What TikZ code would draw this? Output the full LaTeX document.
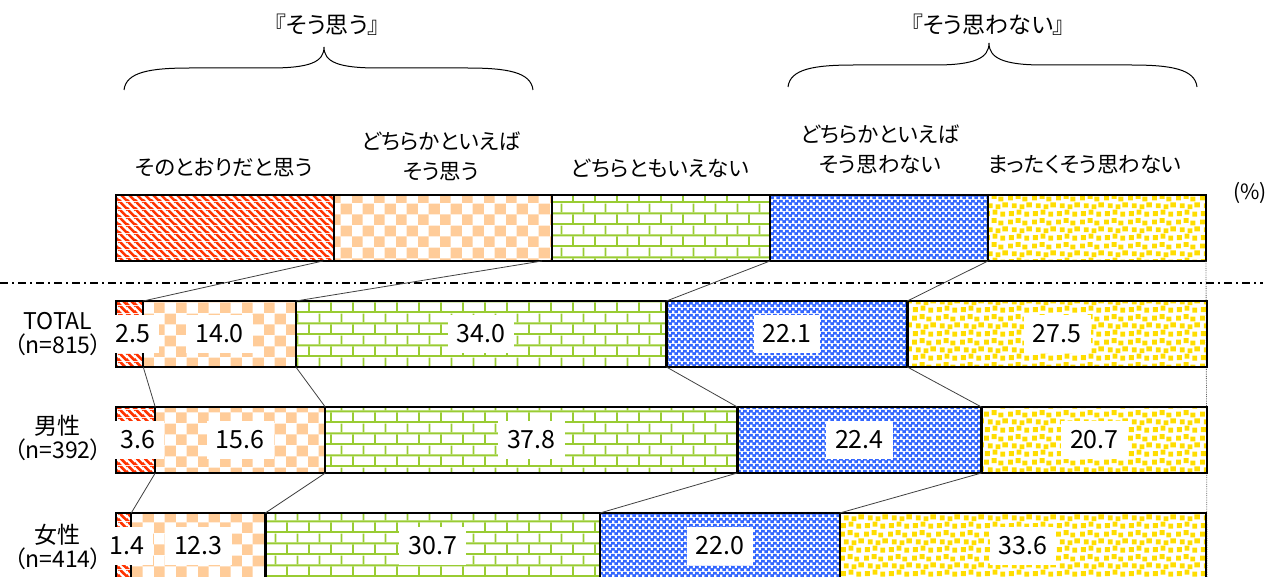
\documentclass[tikz,border=0pt]{standalone}
\usepackage{fontspec}
\setmainfont{Noto Sans CJK JP}[RawFeature=+palt]
\usetikzlibrary{positioning,patterns.meta}

\definecolor{stripered}{RGB}{255,51,0}
\definecolor{checkpeach}{RGB}{255,204,153}
\definecolor{brickgreen}{RGB}{153,204,51}
\definecolor{dotblue}{RGB}{51,102,255}
\definecolor{spotyellow}{RGB}{255,221,0}

\newcommand{\pcw}{10.9pt}

\tikzdeclarepattern{
  name=redstripes, type=colored,
  bounding box={(0pt,0pt) and (8pt,8pt)},
  tile size={(8pt,8pt)},
  code={
    \fill[stripered] (0pt,6pt) -- (0pt,8pt) -- (2pt,8pt) -- (8pt,2pt) -- (8pt,0pt) -- (6pt,0pt) -- cycle;
    \fill[stripered] (0pt,0pt) -- (2pt,0pt) -- (0pt,2pt) -- cycle;
    \fill[stripered] (8pt,6pt) -- (8pt,8pt) -- (6pt,8pt) -- cycle;
  }
}
\tikzdeclarepattern{
  name=checks, type=colored,
  bounding box={(0pt,0pt) and (22pt,22pt)},
  tile size={(22pt,22pt)},
  code={
    \fill[checkpeach] (0pt,0pt) rectangle (11pt,11pt);
    \fill[checkpeach] (11pt,11pt) rectangle (22pt,22pt);
  }
}
\tikzdeclarepattern{
  name=greenbricks, type=colored,
  bounding box={(0pt,0pt) and (22pt,22pt)},
  tile size={(22pt,22pt)},
  code={
    \fill[brickgreen] (0pt,0pt) rectangle (22pt,2pt);
    \fill[brickgreen] (0pt,11pt) rectangle (22pt,13pt);
    \fill[brickgreen] (0pt,2pt) rectangle (2pt,11pt);
    \fill[brickgreen] (11pt,13pt) rectangle (13pt,22pt);
  }
}
\tikzdeclarepattern{
  name=bluechecks, type=colored,
  bounding box={(0pt,0pt) and (6pt,6pt)},
  tile size={(6pt,6pt)},
  code={
    \fill[dotblue] (0pt,0pt) rectangle (6pt,6pt);
    \fill[white] (0.2pt,0.2pt) rectangle (2.8pt,2.8pt);
    \fill[white] (3.2pt,3.2pt) rectangle (5.8pt,5.8pt);
  }
}
\tikzdeclarepattern{
  name=yellowspots, type=colored,
  bounding box={(0pt,0pt) and (24pt,24pt)},
  tile size={(24pt,24pt)},
  code={
    \fill[spotyellow] (1pt,1pt) rectangle +(5pt,5pt);
    \fill[spotyellow] (9pt,2.5pt) rectangle +(5pt,5pt);
    \fill[spotyellow] (17pt,0.5pt) rectangle +(5pt,5pt);
    \fill[spotyellow] (4pt,9pt) rectangle +(5pt,5pt);
    \fill[spotyellow] (12pt,8pt) rectangle +(5pt,5pt);
    \fill[spotyellow] (19pt,10pt) rectangle +(5pt,5pt);
    \fill[spotyellow] (0pt,17pt) rectangle +(5pt,5pt);
    \fill[spotyellow] (8pt,18.5pt) rectangle +(5pt,5pt);
    \fill[spotyellow] (15pt,16pt) rectangle +(5pt,5pt);
  }
}

\tikzset{
  seg/.style={draw, line width=2.4pt, inner sep=0pt, outer sep=0pt, minimum height=66pt},
  numbox/.style={fill=white, inner xsep=9pt, inner ysep=0pt, minimum height=38pt, font=\fontsize{25}{25}\selectfont},
  serline/.style={black!75, line width=0.8pt},
  lab/.style={font=\fontsize{21.5}{30}\selectfont, align=center, inner sep=0pt},
  rowlab/.style={font=\fontsize{23}{24}\selectfont, align=center, inner sep=0pt},
}

\begin{document}
\begin{tikzpicture}[x=1pt, y=-1pt]
		\useasboundingbox (0,0) rectangle (1281,577);
		% titles and braces
		\node (gy) [lab, font=\fontsize{23}{23}\selectfont] at (327,25) {『そう思う』};
		\node (gn) [lab, font=\fontsize{23}{23}\selectfont] at (988,25) {『そう思わない』};
		\draw[line width=1pt] (124,90) .. controls (126,72) and (150,68) .. (190,68) -- (270,68) .. controls (310,68) and (324,62) .. (324,47) .. controls (324,62) and (338,68) .. (378,68) -- (467,68) .. controls (507,68) and (531,72) .. (533,90);
		\draw[line width=1pt] (788,87) .. controls (790,69) and (814,65) .. (854,65) -- (935,65) .. controls (975,65) and (989,58) .. (989,43) .. controls (989,58) and (1003,65) .. (1043,65) -- (1131,65) .. controls (1171,65) and (1195,69) .. (1197,87);
		% legend bar
		\node (h1) [lab] at (224,168) {そのとおりだと思う};
		\node (h2) [lab] at (441,156) {どちらかといえば\\そう思う};
		\node (h3) [lab] at (660,168) {どちらともいえない};
		\node (h4) [lab] at (880,149) {どちらかといえば\\そう思わない};
		\node (h5) [lab] at (1085,165) {まったくそう思わない};
		\node (pc) [rowlab, font=\fontsize{21}{21}\selectfont] at (1250,193) {(\%)};
		\coordinate (vb) at (1207,577);
		\coordinate (dl) at (0,283);
		\coordinate (dr) at (1263,283);
		\node (l1) [seg, pattern=redstripes, minimum width=218pt, anchor=north west] at (116,195) {};
		\node (l2) [seg, pattern=checks, minimum width=218pt, right=0pt of l1] {};
		\node (l3) [seg, pattern=greenbricks, minimum width=218pt, right=0pt of l2] {};
		\node (l4) [seg, pattern=bluechecks, minimum width=218pt, right=0pt of l3] {};
		\node (l5) [seg, pattern=yellowspots, minimum width=218pt, right=0pt of l4] {};
		\draw[black!60, line width=0.8pt, densely dotted] (l5.south east) -- (vb);
		\draw[line width=1.2pt, dash pattern=on 8pt off 4pt on 2pt off 4pt] (dl) -- (dr);
		% TOTAL
		\node (rt) [rowlab] at (58,334) {TOTAL\\（n=815）};
		\node (t1) [seg, pattern=redstripes, minimum width=2.5*\pcw, anchor=north west] at (116,301) {};
		\node (t2) [seg, pattern=checks, minimum width=14.0*\pcw, right=0pt of t1] {};
		\node (t3) [seg, pattern=greenbricks, minimum width=34.0*\pcw, right=0pt of t2] {};
		\node (t4) [seg, pattern=bluechecks, minimum width=22.1*\pcw, right=0pt of t3] {};
		\node (t5) [seg, pattern=yellowspots, minimum width=27.5*\pcw, right=0pt of t4] {};
		% male
		\node (rm) [rowlab] at (58,438) {男性\\（n=392）};
		\node (m1) [seg, pattern=redstripes, minimum width=3.6*\pcw, anchor=north west] at (116,407) {};
		\node (m2) [seg, pattern=checks, minimum width=15.6*\pcw, right=0pt of m1] {};
		\node (m3) [seg, pattern=greenbricks, minimum width=37.8*\pcw, right=0pt of m2] {};
		\node (m4) [seg, pattern=bluechecks, minimum width=22.4*\pcw, right=0pt of m3] {};
		\node (m5) [seg, pattern=yellowspots, minimum width=20.7*\pcw, right=0pt of m4] {};
		% female
		\node (rf) [rowlab] at (58,547) {女性\\（n=414）};
		\node (f1) [seg, pattern=redstripes, minimum width=1.4*\pcw, anchor=north west] at (116,513) {};
		\node (f2) [seg, pattern=checks, minimum width=12.3*\pcw, right=0pt of f1] {};
		\node (f3) [seg, pattern=greenbricks, minimum width=30.7*\pcw, right=0pt of f2] {};
		\node (f4) [seg, pattern=bluechecks, minimum width=22.0*\pcw, right=0pt of f3] {};
		\node (f5) [seg, pattern=yellowspots, minimum width=33.6*\pcw, right=0pt of f4] {};
		% series lines
		\draw[serline] ([xshift=-11pt]l1.south east) -- (t1.north east);
		\draw[serline] ([xshift=-10pt]l2.south east) -- (t2.north east);
		\draw[serline] (l3.south east) -- (t3.north east);
		\draw[serline] (l4.south east) -- (t4.north east);
		\draw[serline] (t1.south east) -- (m1.north east);
		\draw[serline] (t2.south east) -- (m2.north east);
		\draw[serline] (t3.south east) -- (m3.north east);
		\draw[serline] (t4.south east) -- (m4.north east);
		\draw[serline] (m1.south east) -- (f1.north east);
		\draw[serline] (m2.south east) -- (f2.north east);
		\draw[serline] (m3.south east) -- (f3.north east);
		\draw[serline] (m4.south east) -- (f4.north east);
		% values
		\node (vt1) [numbox, xshift=3pt] at (t1) {2.5};
		\node (vt2) [numbox] at (t2) {14.0};
		\node (vt3) [numbox] at (t3) {34.0};
		\node (vt4) [numbox] at (t4) {22.1};
		\node (vt5) [numbox] at (t5) {27.5};
		\node (vm1) [numbox, xshift=2pt] at (m1) {3.6};
		\node (vm2) [numbox] at (m2) {15.6};
		\node (vm3) [numbox] at (m3) {37.8};
		\node (vm4) [numbox] at (m4) {22.4};
		\node (vm5) [numbox] at (m5) {20.7};
		\node (vf1) [numbox, xshift=3pt] at (f1) {1.4};
		\node (vf2) [numbox] at (f2) {12.3};
		\node (vf3) [numbox] at (f3) {30.7};
		\node (vf4) [numbox] at (f4) {22.0};
		\node (vf5) [numbox] at (f5) {33.6};
\end{tikzpicture}
\end{document}
